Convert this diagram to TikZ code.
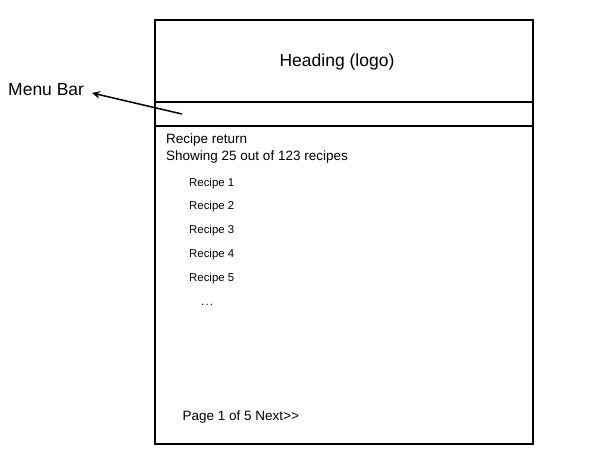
\documentclass[tikz,border=0pt]{standalone}
\usepackage{fontspec}
\setmainfont{Liberation Sans}
\usetikzlibrary{arrows.meta}
\begin{document}
\begin{tikzpicture}[x=1pt,y=-1pt,
  frame/.style={line width=2pt,draw=black},
  bar/.style={line width=2pt,draw=black},
  txt/.style={inner sep=0pt,anchor=base west,font=\fontsize{13.5}{16}\selectfont},
  item/.style={inner sep=0pt,anchor=base west,font=\fontsize{11.4}{14}\selectfont},
  big/.style={inner sep=0pt,font=\fontsize{17.5}{20}\selectfont}]
\useasboundingbox (0,0) rectangle (605,475);
\draw[frame] (155,20) rectangle (533,444);
\coordinate (b1l) at (155,102); \coordinate (b1r) at (533,102);
\coordinate (b2l) at (155,125.5); \coordinate (b2r) at (533,125.5);
\draw[bar] (b1l) -- (b1r);
\draw[bar] (b2l) -- (b2r);
\node[big,anchor=base] (head) at (337,66) {Heading (logo)};
\node[big,anchor=base west] (menu) at (8,95.5) {Menu Bar};
\coordinate (tail) at (182,114);
\coordinate (tip) at (92,93);
\draw[line width=1.5pt,-{Stealth[length=8pt,width=7.5pt]}] (tail) -- (tip);
\node[txt] (ret) at (166,143.5) {Recipe return};
\node[txt] (show) at (166,160.5) {Showing 25 out of 123 recipes};
\node[item] (r1) at (189,186) {Recipe 1};
\node[item] (r2) at (189,209.8) {Recipe 2};
\node[item] (r3) at (189,233.6) {Recipe 3};
\node[item] (r4) at (189,257.4) {Recipe 4};
\node[item] (r5) at (189,281.2) {Recipe 5};
\node[item] (dots) at (201,305.5) {.\hspace{1.2pt}.\hspace{1.2pt}.};
\node[txt] (page) at (182.5,420.5) {Page 1 of 5 Next>{}>};
\end{tikzpicture}
\end{document}
